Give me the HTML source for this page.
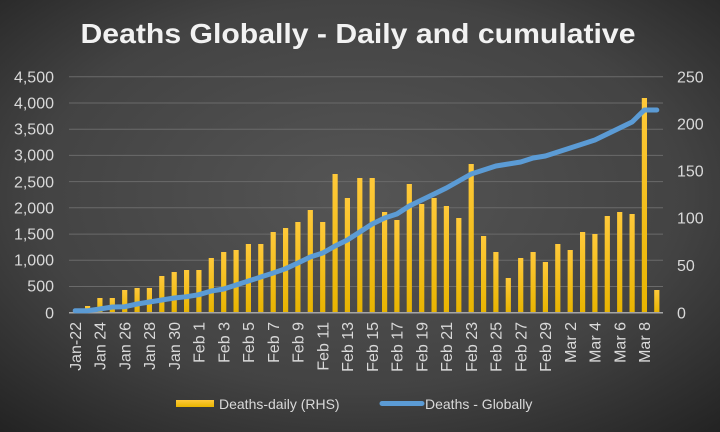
<!DOCTYPE html><html><head><meta charset="utf-8"><style>
html,body{margin:0;padding:0;width:720px;height:432px;overflow:hidden;background:#3a3a3a}
svg{display:block;font-family:"Liberation Sans",sans-serif}
</style></head><body>
<svg width="720" height="432" viewBox="0 0 720 432" xmlns="http://www.w3.org/2000/svg">
<defs>
<radialGradient id="bg" cx="50%" cy="45%" r="75%"><stop offset="0" stop-color="#555"/><stop offset="0.6" stop-color="#434343"/><stop offset="1" stop-color="#222"/></radialGradient>
<linearGradient id="bar" x1="0" y1="0" x2="0" y2="1"><stop offset="0" stop-color="#ffc93a"/><stop offset="1" stop-color="#e8b400"/></linearGradient>
</defs>
<rect width="720" height="432" fill="url(#bg)"/>
<text x="358" y="43" text-anchor="middle" font-size="28" font-weight="bold" fill="#f2f2f2" textLength="555" lengthAdjust="spacingAndGlyphs">Deaths Globally - Daily and cumulative</text>
<g stroke="#6a6a6a" stroke-width="1">
<line x1="69" x2="663" y1="76.8" y2="76.8"/><line x1="69" x2="663" y1="103" y2="103"/><line x1="69" x2="663" y1="129.2" y2="129.2"/><line x1="69" x2="663" y1="155.4" y2="155.4"/><line x1="69" x2="663" y1="181.6" y2="181.6"/><line x1="69" x2="663" y1="207.8" y2="207.8"/><line x1="69" x2="663" y1="234.1" y2="234.1"/><line x1="69" x2="663" y1="260.3" y2="260.3"/><line x1="69" x2="663" y1="286.5" y2="286.5"/>
</g>
<g fill="#d9d9d9" font-size="16" text-anchor="end">
<text x="54" y="82.5">4,500</text><text x="54" y="108.5">4,000</text><text x="54" y="134.5">3,500</text><text x="54" y="160.5">3,000</text><text x="54" y="187.5">2,500</text><text x="54" y="213.5">2,000</text><text x="54" y="239.5">1,500</text><text x="54" y="265.5">1,000</text><text x="54" y="291.5">500</text><text x="54" y="318.5">0</text>
</g>
<g fill="#d9d9d9" font-size="16">
<text x="677" y="82.5">250</text><text x="677" y="129.5">200</text><text x="677" y="176.5">150</text><text x="677" y="223.5">100</text><text x="677" y="271">50</text><text x="677" y="318.5">0</text>
</g>
<g fill="url(#bar)">
<rect x="85" y="306" width="5.2" height="6.7"/><rect x="97.3" y="298" width="5.2" height="14.7"/><rect x="109.7" y="298" width="5.2" height="14.7"/><rect x="122.1" y="290" width="5.2" height="22.7"/><rect x="134.5" y="288" width="5.2" height="24.7"/><rect x="146.8" y="288" width="5.2" height="24.7"/><rect x="159.2" y="276" width="5.2" height="36.7"/><rect x="171.6" y="272" width="5.2" height="40.7"/><rect x="184" y="270" width="5.2" height="42.7"/>
<rect x="196.3" y="270" width="5.2" height="42.7"/><rect x="208.7" y="258" width="5.2" height="54.7"/><rect x="221.1" y="252" width="5.2" height="60.7"/><rect x="233.5" y="250" width="5.2" height="62.7"/><rect x="245.8" y="244" width="5.2" height="68.7"/><rect x="258.2" y="244" width="5.2" height="68.7"/><rect x="270.6" y="232" width="5.2" height="80.7"/><rect x="283" y="228" width="5.2" height="84.7"/><rect x="295.3" y="222" width="5.2" height="90.7"/><rect x="307.7" y="210" width="5.2" height="102.7"/><rect x="320.1" y="222" width="5.2" height="90.7"/><rect x="332.5" y="174" width="5.2" height="138.7"/><rect x="344.8" y="198" width="5.2" height="114.7"/><rect x="357.2" y="178" width="5.2" height="134.7"/><rect x="369.6" y="178" width="5.2" height="134.7"/><rect x="382" y="212" width="5.2" height="100.7"/><rect x="394.3" y="220" width="5.2" height="92.7"/><rect x="406.7" y="184" width="5.2" height="128.7"/><rect x="419.1" y="204" width="5.2" height="108.7"/><rect x="431.5" y="198" width="5.2" height="114.7"/><rect x="443.8" y="206" width="5.2" height="106.7"/><rect x="456.2" y="218" width="5.2" height="94.7"/><rect x="468.6" y="164" width="5.2" height="148.7"/><rect x="481" y="236" width="5.2" height="76.7"/><rect x="493.3" y="252" width="5.2" height="60.7"/><rect x="505.7" y="278" width="5.2" height="34.7"/><rect x="518.1" y="258" width="5.2" height="54.7"/><rect x="530.5" y="252" width="5.2" height="60.7"/><rect x="542.8" y="262" width="5.2" height="50.7"/>
<rect x="555.2" y="244" width="5.2" height="68.7"/><rect x="567.6" y="250" width="5.2" height="62.7"/><rect x="580" y="232" width="5.2" height="80.7"/><rect x="592.3" y="234" width="5.2" height="78.7"/><rect x="604.7" y="216" width="5.2" height="96.7"/><rect x="617.1" y="212" width="5.2" height="100.7"/><rect x="629.5" y="214" width="5.2" height="98.7"/><rect x="641.8" y="98" width="5.2" height="214.7"/><rect x="654.2" y="290" width="5.2" height="22.7"/>
</g>
<line x1="69" x2="663" y1="312.7" y2="312.7" stroke="#a6a6a6" stroke-width="1.5"/>
<polyline fill="none" stroke="#5b9bd5" stroke-width="5" stroke-linejoin="round" stroke-linecap="round" points="75.2,310.7 87.6,310.7 99.9,309 112.3,307 124.7,306.7 137.1,304 149.4,302 161.8,300 174.2,298 186.6,296.7 198.9,294.7 211.3,291 223.7,289 236.1,285 248.4,281 260.8,277 273.2,273 285.6,268.7 297.9,263 310.3,257 322.7,253 335.1,246 347.4,240 359.8,232 372.2,224 384.6,218 396.9,214 409.3,206 421.7,200 434.1,194 446.4,188 458.8,181 471.2,174 483.6,170 495.9,166 508.3,164 520.7,162 533.1,158 545.4,156 557.8,152 570.2,148 582.6,144 594.9,140 607.3,134 619.7,128 632.1,122 644.4,110 656.8,110"/>
<g fill="#d9d9d9" font-size="16" text-anchor="end">
<text transform="translate(81,322) rotate(-90)">Jan-22</text>
<text transform="translate(105.7,322) rotate(-90)">Jan 24</text>
<text transform="translate(130.5,322) rotate(-90)">Jan 26</text>
<text transform="translate(155.2,322) rotate(-90)">Jan 28</text>
<text transform="translate(180,322) rotate(-90)">Jan 30</text>
<text transform="translate(204.7,322) rotate(-90)">Feb 1</text>
<text transform="translate(229.5,322) rotate(-90)">Feb 3</text>
<text transform="translate(254.2,322) rotate(-90)">Feb 5</text>
<text transform="translate(279,322) rotate(-90)">Feb 7</text>
<text transform="translate(303.7,322) rotate(-90)">Feb 9</text>
<text transform="translate(328.5,322) rotate(-90)">Feb 11</text>
<text transform="translate(353.2,322) rotate(-90)">Feb 13</text>
<text transform="translate(378,322) rotate(-90)">Feb 15</text>
<text transform="translate(402.7,322) rotate(-90)">Feb 17</text>
<text transform="translate(427.5,322) rotate(-90)">Feb 19</text>
<text transform="translate(452.2,322) rotate(-90)">Feb 21</text>
<text transform="translate(477,322) rotate(-90)">Feb 23</text>
<text transform="translate(501.7,322) rotate(-90)">Feb 25</text>
<text transform="translate(526.5,322) rotate(-90)">Feb 27</text>
<text transform="translate(551.2,322) rotate(-90)">Feb 29</text>
<text transform="translate(576,322) rotate(-90)">Mar 2</text>
<text transform="translate(600.7,322) rotate(-90)">Mar 4</text>
<text transform="translate(625.5,322) rotate(-90)">Mar 6</text>
<text transform="translate(650.2,322) rotate(-90)">Mar 8</text>
</g>
<rect x="176" y="400" width="38" height="7" fill="url(#bar)"/>
<text x="219" y="409" font-size="14" fill="#d9d9d9">Deaths-daily (RHS)</text>
<line x1="382" x2="422" y1="403.5" y2="403.5" stroke="#5b9bd5" stroke-width="5" stroke-linecap="round"/>
<text x="425" y="409" font-size="14" fill="#d9d9d9">Deaths - Globally</text>
</svg>
</body></html>
